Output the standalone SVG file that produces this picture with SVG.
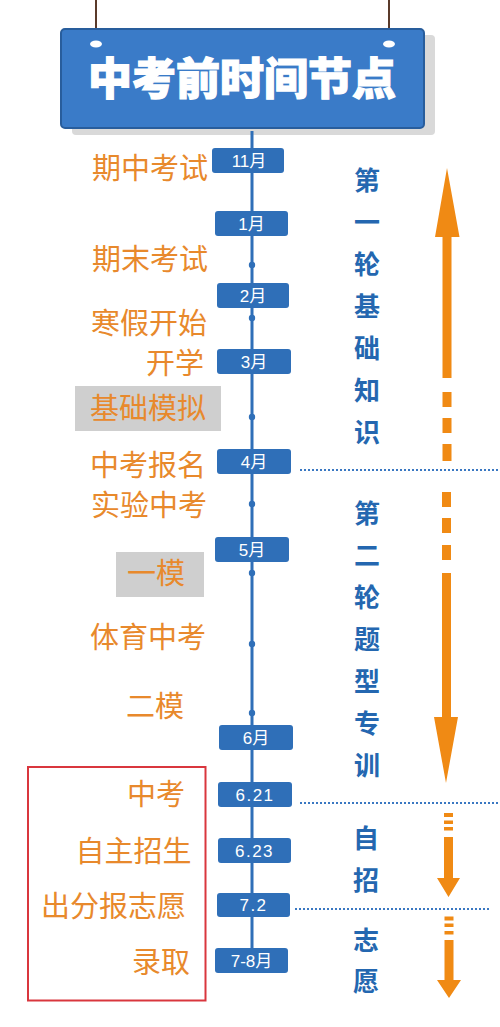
<svg xmlns="http://www.w3.org/2000/svg" width="500" height="1027" viewBox="0 0 500 1027">
<style>
.lbl{font-family:"Noto Sans CJK SC","Noto Sans",sans-serif;font-size:29px;fill:#e8892c;text-anchor:end}
.vt{font-family:"Noto Sans CJK SC",sans-serif;font-size:26px;font-weight:bold;fill:#2467b0;text-anchor:middle}
.mb{fill:#2f6fb8}
.mt{font-family:"Liberation Sans","Noto Sans CJK SC",sans-serif;font-size:17px;fill:#ffffff;text-anchor:middle}
.dot{fill:#2f6fb8}
.dl{stroke:#3a78c2;stroke-width:2;stroke-dasharray:2 2;fill:none}
.oa{fill:#f08a14}
.gb{fill:#cfcfcf}
</style>
<rect width="500" height="1027" fill="#ffffff"/>
<g id="header">
  <line x1="96" y1="0" x2="96" y2="43" stroke="#5a3a2a" stroke-width="2"/>
  <line x1="389" y1="0" x2="389" y2="43" stroke="#5a3a2a" stroke-width="2"/>
  <rect x="72" y="35" width="363" height="100" rx="4" fill="#d9d9d9"/>
  <rect x="61" y="29" width="363" height="99" rx="4" fill="#3a7bc8" stroke="#285d9c" stroke-width="2"/>
  <ellipse cx="96" cy="44" rx="6" ry="3.5" fill="#ffffff"/>
  <ellipse cx="389" cy="44" rx="6" ry="3.5" fill="#ffffff"/>
  <text x="242" y="95" font-family="Noto Sans CJK SC,sans-serif" font-size="44" font-weight="900" fill="#ffffff" stroke="#ffffff" stroke-width="1.2" text-anchor="middle">中考前时间节点</text>
</g>
<g id="connectors">
  <line x1="252" y1="131" x2="252" y2="960" stroke="#2f6fb8" stroke-width="3"/>
  <circle class="dot" cx="252" cy="265" r="3.2"/>
  <circle class="dot" cx="252" cy="318" r="3.2"/>
  <circle class="dot" cx="252" cy="417" r="3.2"/>
  <circle class="dot" cx="252" cy="504" r="3.2"/>
  <circle class="dot" cx="252" cy="573" r="3.2"/>
  <circle class="dot" cx="252" cy="644" r="3.2"/>
  <circle class="dot" cx="252" cy="713" r="3.2"/>
  <line class="dl" x1="300" y1="470" x2="500" y2="470"/>
  <line class="dl" x1="300" y1="803" x2="500" y2="803"/>
  <line class="dl" x1="295" y1="909" x2="490" y2="909"/>
</g>
<g id="months">
  <g id="m11"><rect class="mb" x="212" y="148" width="72" height="25" rx="3"/><text class="mt" x="249" y="166.5">11月</text></g>
  <g id="m1"><rect class="mb" x="215" y="211" width="73" height="25" rx="3"/><text class="mt" x="251.5" y="229.5">1月</text></g>
  <g id="m2"><rect class="mb" x="217" y="283" width="72" height="25" rx="3"/><text class="mt" x="253" y="301.5">2月</text></g>
  <g id="m3"><rect class="mb" x="217" y="349" width="74" height="25" rx="3"/><text class="mt" x="254" y="367.5">3月</text></g>
  <g id="m4"><rect class="mb" x="217" y="449" width="74" height="25" rx="3"/><text class="mt" x="254" y="467.5">4月</text></g>
  <g id="m5"><rect class="mb" x="215" y="537" width="74" height="25" rx="3"/><text class="mt" x="252" y="555.5">5月</text></g>
  <g id="m6"><rect class="mb" x="219" y="725" width="74" height="25" rx="3"/><text class="mt" x="256" y="743.5">6月</text></g>
  <g id="d621"><rect class="mb" x="218" y="782" width="74" height="25" rx="3"/><text class="mt" x="255" y="800.5" letter-spacing="1.5">6.21</text></g>
  <g id="d623"><rect class="mb" x="218" y="838" width="73" height="25" rx="3"/><text class="mt" x="254.5" y="856.5" letter-spacing="1.5">6.23</text></g>
  <g id="d72"><rect class="mb" x="217" y="893" width="73" height="24" rx="3"/><text class="mt" x="253.5" y="911" letter-spacing="1.5">7.2</text></g>
  <g id="m78"><rect class="mb" x="215" y="948" width="73" height="25" rx="3"/><text class="mt" x="251.5" y="966.5">7-8月</text></g>
</g>
<g id="events">
  <text class="lbl" x="208" y="179">期中考试</text>
  <text class="lbl" x="208" y="269.5">期末考试</text>
  <text class="lbl" x="207" y="333.5">寒假开始</text>
  <text class="lbl" x="204" y="373.5">开学</text>
  <rect class="gb" x="75" y="386" width="146" height="45"/>
  <text class="lbl" x="206" y="419">基础模拟</text>
  <text class="lbl" x="206" y="476">中考报名</text>
  <text class="lbl" x="207" y="515.5">实验中考</text>
  <rect class="gb" x="116" y="552" width="88" height="45"/>
  <text class="lbl" x="185" y="584">一模</text>
  <text class="lbl" x="206" y="648">体育中考</text>
  <text class="lbl" x="184" y="717">二模</text>
  <rect x="28" y="767" width="177.5" height="233.5" fill="none" stroke="#d9363e" stroke-width="2"/>
  <text class="lbl" x="185" y="805">中考</text>
  <text class="lbl" x="191.5" y="861.5">自主招生</text>
  <text class="lbl" x="186" y="916.5">出分报志愿</text>
  <text class="lbl" x="190" y="972.5">录取</text>
</g>
<g id="phase1">
  <text class="vt" x="367" y="190">第</text>
  <text class="vt" x="367" y="232">一</text>
  <text class="vt" x="367" y="274">轮</text>
  <text class="vt" x="367" y="316">基</text>
  <text class="vt" x="367" y="358">础</text>
  <text class="vt" x="367" y="400">知</text>
  <text class="vt" x="367" y="442">识</text>
  <polygon class="oa" points="447,168 459.5,237 451.5,237 451.5,378 442.5,378 442.5,237 435,237"/>
  <rect class="oa" x="442.5" y="392" width="9" height="15"/>
  <rect class="oa" x="442.5" y="418" width="9" height="15"/>
  <rect class="oa" x="442.5" y="444" width="9" height="17"/>
</g>
<g id="phase2">
  <text class="vt" x="367" y="522.5">第</text>
  <text class="vt" x="367" y="564.5">二</text>
  <text class="vt" x="367" y="606.5">轮</text>
  <text class="vt" x="367" y="648.5">题</text>
  <text class="vt" x="367" y="690.5">型</text>
  <text class="vt" x="367" y="732.5">专</text>
  <text class="vt" x="367" y="774.5">训</text>
  <rect class="oa" x="442" y="492" width="9" height="15"/>
  <rect class="oa" x="442" y="518" width="9" height="15"/>
  <rect class="oa" x="442" y="545" width="9" height="15"/>
  <polygon class="oa" points="442,573 451,573 451,717 458,717 446,783 434,717 442,717"/>
</g>
<g id="phase3">
  <text class="vt" x="366" y="847.5">自</text>
  <text class="vt" x="366" y="889.5">招</text>
  <rect class="oa" x="444" y="813" width="9" height="4"/>
  <rect class="oa" x="444" y="820.5" width="9" height="3.5"/>
  <rect class="oa" x="444" y="827" width="9" height="3.5"/>
  <polygon class="oa" points="444,837 453,837 453,878 460,878 448.5,897 437,878 444,878"/>
</g>
<g id="phase4">
  <text class="vt" x="366" y="949.5">志</text>
  <text class="vt" x="366" y="991">愿</text>
  <rect class="oa" x="444.5" y="916.5" width="9" height="4"/>
  <rect class="oa" x="444.5" y="923.5" width="9" height="3.5"/>
  <rect class="oa" x="444.5" y="931" width="9" height="3.5"/>
  <polygon class="oa" points="444.5,940 453.5,940 453.5,980 461,980 449,998 437,980 444.5,980"/>
</g>
</svg>
